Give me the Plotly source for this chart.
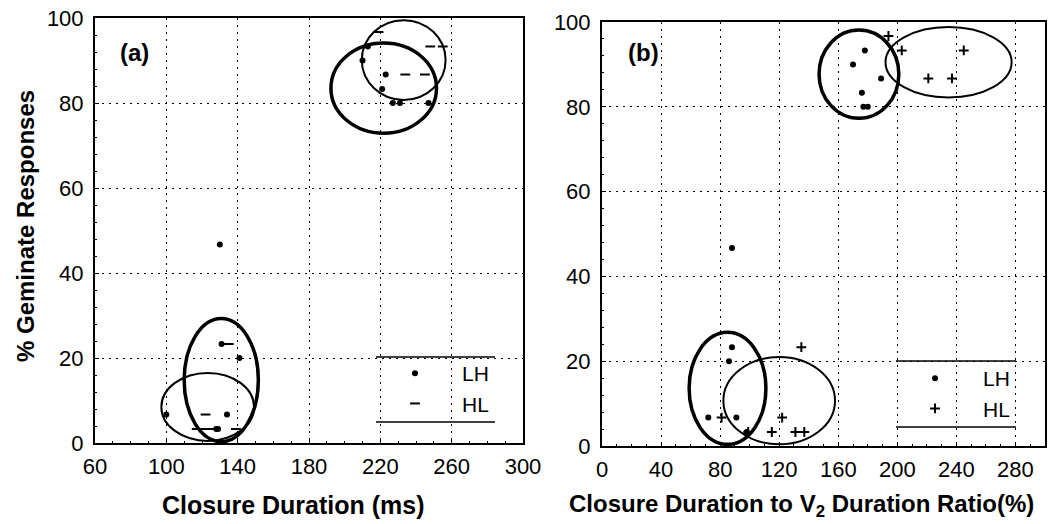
import plotly.graph_objects as go

# ---------------- data ----------------
# Panel (a): closure duration (ms) vs % geminate responses
a_lh_x = [130, 210, 213, 223, 221, 227, 231, 247, 131, 141, 100, 134, 128, 129]
a_lh_y = [46.7, 90, 93.3, 86.7, 83.3, 80, 80, 80, 23.3, 20, 6.7, 6.7, 3.3, 3.3]
a_hl_x = [219, 248, 255, 234, 245, 135, 122, 117, 121, 124, 139]
a_hl_y = [96.7, 93.3, 93.3, 86.7, 86.7, 23.3, 6.7, 3.3, 3.3, 3.3, 3.3]

# Panel (b): closure duration to V2 duration ratio (%) vs % geminate responses
b_lh_x = [178, 170, 189, 176, 177, 180, 88, 88, 86, 72, 91, 98]
b_lh_y = [93.3, 90, 86.7, 83.3, 80, 80, 46.7, 23.3, 20, 6.7, 6.7, 3.3]
b_hl_x = [194, 203, 245, 221, 237, 135, 122, 81, 115, 131, 137, 99]
b_hl_y = [96.7, 93.3, 93.3, 86.7, 86.7, 23.3, 6.7, 6.7, 3.3, 3.3, 3.3, 3.3]

# ellipses: centre x, centre y, semi-axis x, semi-axis y, group
a_ell_cx = [221.9, 233.1, 130.8, 123.2]
a_ell_cy = [83.5, 90.1, 14.8, 8.5]
a_ell_rx = [29.6, 23.5, 20.8, 26.0]
a_ell_ry = [10.6, 9.4, 14.5, 8.0]
a_ell_grp = ["LH", "HL", "LH", "HL"]

b_ell_cx = [174.0, 234.7, 85.0, 120.0]
b_ell_cy = [87.7, 90.5, 13.6, 10.7]
b_ell_rx = [27.0, 42.7, 26.0, 37.8]
b_ell_ry = [10.4, 8.3, 13.2, 10.3]
b_ell_grp = ["LH", "HL", "LH", "HL"]

a_xticks = [60, 100, 140, 180, 220, 260, 300]
b_xticks = [0, 40, 80, 120, 160, 200, 240, 280]
yticks = [0, 20, 40, 60, 80, 100]

# ---------------- figure ----------------
W, H = 1060, 524
FONT = "Liberation Sans, Arial, Helvetica, sans-serif"

def px(x):
    return x / W

def py(y):
    return 1 - y / H

fig = go.Figure()

lh_marker = dict(symbol="circle", size=6, color="black")
fig.add_trace(go.Scatter(x=a_lh_x, y=a_lh_y, mode="markers", name="LH",
                         marker=lh_marker, xaxis="x", yaxis="y", legend="legend"))
fig.add_trace(go.Scatter(x=a_hl_x, y=a_hl_y, mode="markers", name="HL",
                         marker=dict(symbol="line-ew", size=7, color="black",
                                     line=dict(color="black", width=2)),
                         xaxis="x", yaxis="y", legend="legend"))
fig.add_trace(go.Scatter(x=b_lh_x, y=b_lh_y, mode="markers", name="LH",
                         marker=lh_marker, xaxis="x2", yaxis="y2", legend="legend2"))
fig.add_trace(go.Scatter(x=b_hl_x, y=b_hl_y, mode="markers", name="HL",
                         marker=dict(symbol="cross-thin", size=7, color="black",
                                     line=dict(color="black", width=2)),
                         xaxis="x2", yaxis="y2", legend="legend2"))

shapes = []
for cx, cy, rx, ry, g in zip(a_ell_cx, a_ell_cy, a_ell_rx, a_ell_ry, a_ell_grp):
    shapes.append(dict(type="circle", xref="x", yref="y",
                       x0=cx - rx, x1=cx + rx, y0=cy - ry, y1=cy + ry,
                       line=dict(color="black", width=3.5 if g == "LH" else 2)))
for cx, cy, rx, ry, g in zip(b_ell_cx, b_ell_cy, b_ell_rx, b_ell_ry, b_ell_grp):
    shapes.append(dict(type="circle", xref="x2", yref="y2",
                       x0=cx - rx, x1=cx + rx, y0=cy - ry, y1=cy + ry,
                       line=dict(color="black", width=3.5 if g == "LH" else 2)))

# legend boxes (white area with top and bottom rules)
for (x0, x1, y0, y1) in [(376, 495, 357, 422), (896, 1016, 361, 427)]:
    shapes.append(dict(type="rect", xref="paper", yref="paper", layer="between",
                       x0=px(x0), x1=px(x1), y0=py(y1), y1=py(y0),
                       fillcolor="white", line=dict(width=0)))
    for yy in (y0, y1):
        shapes.append(dict(type="line", xref="paper", yref="paper",
                           x0=px(x0), x1=px(x1), y0=py(yy), y1=py(yy),
                           line=dict(color="black", width=1.5)))

common_axis = dict(
    showline=True, linecolor="black", linewidth=2, mirror=True,
    showgrid=True, gridcolor="black", gridwidth=1, griddash="2px,5px",
    zeroline=False, ticks="inside", ticklen=4, tickcolor="black",
    tickfont=dict(family=FONT, size=22, color="black"),
    automargin=False,
    minor=dict(ticks="inside", ticklen=2, tickcolor="black", showgrid=False),
)

def ann(text, x, y, size=24, angle=0):
    return dict(text=text, x=px(x), y=py(y), xref="paper", yref="paper",
                xanchor="center", yanchor="middle", showarrow=False,
                textangle=angle, font=dict(family=FONT, size=size, color="black"))

fig.update_layout(
    width=W, height=H, autosize=False,
    margin=dict(l=0, r=0, t=0, b=0, pad=0),
    paper_bgcolor="white", plot_bgcolor="white",
    font=dict(family=FONT, color="black"),
    xaxis=dict(common_axis, domain=[px(95), px(523)], range=[60, 300],
               tickvals=a_xticks, minor=dict(common_axis["minor"], dtick=10),
               ticklabelstandoff=3, anchor="y"),
    yaxis=dict(common_axis, domain=[py(443), py(18)], range=[0, 100],
               tickvals=yticks, minor=dict(common_axis["minor"], dtick=4),
               ticklabelstandoff=5, anchor="x"),
    xaxis2=dict(common_axis, domain=[px(602), px(1045)], range=[0, 300],
                tickvals=b_xticks, minor=dict(common_axis["minor"], dtick=10),
                ticklabelstandoff=3, anchor="y2"),
    yaxis2=dict(common_axis, domain=[py(446), py(22)], range=[0, 100],
                tickvals=yticks, minor=dict(common_axis["minor"], dtick=4),
                ticklabelstandoff=5, anchor="x2"),
    shapes=shapes,
    showlegend=True,
    legend=dict(x=px(368), y=py(353), xanchor="left", yanchor="top",
                bgcolor="rgba(0,0,0,0)", borderwidth=0, itemwidth=84,
                font=dict(family=FONT, size=21, color="black")),
    legend2=dict(x=px(887), y=py(358), xanchor="left", yanchor="top",
                 bgcolor="rgba(0,0,0,0)", borderwidth=0, itemwidth=86,
                 font=dict(family=FONT, size=21, color="black")),
    annotations=[
        ann("<b>(a)</b>", 134, 52),
        ann("<b>(b)</b>", 643, 52),
        ann("<b>Closure Duration (ms)</b>", 293, 505, size=25),
        ann("<b>Closure Duration to V<sub>2</sub> Duration Ratio(%)</b>", 801, 505),
        ann("<b>% Geminate Responses</b>", 25, 226, angle=-90),
    ],
)

fig.write_html("out.html")
